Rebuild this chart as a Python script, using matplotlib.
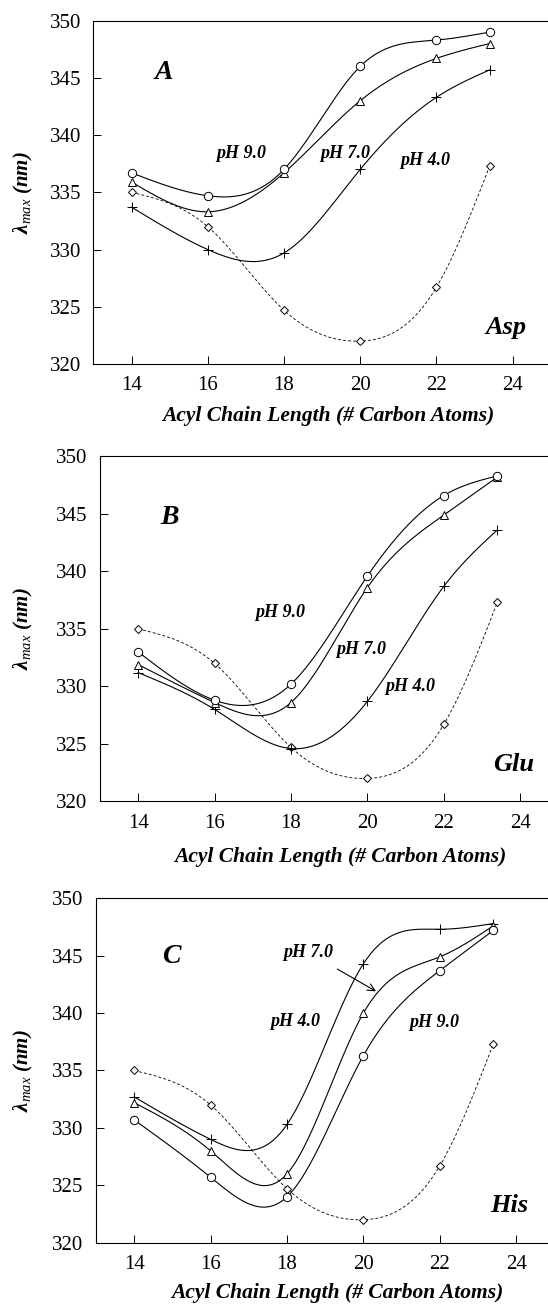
import numpy as np
import matplotlib
matplotlib.use("Agg")
import matplotlib.pyplot as plt

plt.rcParams['font.family'] = ['Liberation Serif', 'DejaVu Serif']
plt.rcParams['mathtext.fontset'] = 'custom'
plt.rcParams['mathtext.rm'] = 'Liberation Serif'
plt.rcParams['mathtext.it'] = 'Liberation Serif:italic'

# acyl chain length (number of carbon atoms)
chain = [14, 16, 18, 20, 22, 23.4]

# reference curve (dashed), same in every panel
ref_curve = [335.0, 332.0, 324.7, 322.0, 326.7, 337.3]

# panel A - Asp
asp_ph9 = [336.7, 334.7, 337.0, 346.0, 348.3, 349.0]
asp_ph7 = [335.9, 333.3, 336.7, 343.0, 346.7, 348.0]
asp_ph4 = [333.7, 330.0, 329.7, 337.0, 343.3, 345.7]

# panel B - Glu
glu_ph9 = [333.0, 328.8, 330.2, 339.6, 346.6, 348.3]
glu_ph7 = [331.9, 328.6, 328.6, 338.6, 344.9, 348.2]
glu_ph4 = [331.2, 328.0, 324.6, 328.7, 338.7, 343.6]

# panel C - His
his_ph9 = [330.7, 325.7, 324.0, 336.3, 343.7, 347.2]
his_ph7 = [332.2, 328.0, 326.0, 340.0, 344.9, 347.6]
his_ph4 = [332.7, 329.0, 330.3, 344.3, 347.3, 347.8]


def natural_spline(x, y, n=300):
    x = np.asarray(x, float)
    y = np.asarray(y, float)
    m = len(x)
    h = np.diff(x)
    A = np.zeros((m, m))
    rhs = np.zeros(m)
    A[0, 0] = 1.0
    A[-1, -1] = 1.0
    for i in range(1, m - 1):
        A[i, i - 1] = h[i - 1]
        A[i, i] = 2 * (h[i - 1] + h[i])
        A[i, i + 1] = h[i]
        rhs[i] = 3 * ((y[i + 1] - y[i]) / h[i] - (y[i] - y[i - 1]) / h[i - 1])
    c = np.linalg.solve(A, rhs)
    b = (y[1:] - y[:-1]) / h - h * (2 * c[:-1] + c[1:]) / 3
    d = (c[1:] - c[:-1]) / (3 * h)
    xs = np.linspace(x[0], x[-1], n)
    idx = np.clip(np.searchsorted(x, xs, side='right') - 1, 0, m - 2)
    t = xs - x[idx]
    ys = y[idx] + b[idx] * t + c[idx] * t ** 2 + d[idx] * t ** 3
    return xs, ys


def draw_series(ax, y, marker, ms, dashed=False):
    xs, ys = natural_spline(chain, y)
    ls = (0, (3.5, 2.5)) if dashed else '-'
    lw = 0.6 if dashed else 0.8
    ax.plot(xs, ys, color='black', lw=lw, ls=ls)
    ax.plot(chain, y, ls='none', marker=marker, ms=ms, mfc='white',
            mec='black', mew=0.7)


bold_it = dict(fontweight='bold', fontstyle='italic')

fig = plt.figure(figsize=(5.48, 13.07), dpi=100)

# axes boxes in figure fraction; right edge runs just past the canvas
panels = [
    dict(rect=[0.1706, 0.7215, 0.8343, 0.2627], letter='A', amino='Asp',
         series=(asp_ph9, asp_ph7, asp_ph4),
         labels=[('pH 9.0', 16.87, 338.4), ('pH 7.0', 19.62, 338.4),
                 ('pH 4.0', 21.71, 337.8)],
         xlab=(0.514, -0.1515), letter_pos=(14.85, 345.5)),
    dict(rect=[0.1825, 0.3868, 0.8365, 0.2640], letter='B', amino='Glu',
         series=(glu_ph9, glu_ph7, glu_ph4),
         labels=[('pH 9.0', 17.72, 336.4), ('pH 7.0', 19.84, 333.2),
                 ('pH 4.0', 21.12, 330.0)],
         xlab=(0.524, -0.161), letter_pos=(14.83, 344.7)),
    dict(rect=[0.1752, 0.0492, 0.8365, 0.2635], letter='C', amino='His',
         series=(his_ph9, his_ph7, his_ph4),
         labels=[('pH 4.0', 18.22, 339.3), ('pH 9.0', 21.85, 339.2)],
         xlab=(0.526, -0.146), letter_pos=(14.96, 344.9)),
]

for p in panels:
    ax = fig.add_axes(p['rect'])
    ph9, ph7, ph4 = p['series']

    draw_series(ax, ref_curve, 'D', 4.0, dashed=True)
    draw_series(ax, ph4, '+', 7.5)
    draw_series(ax, ph7, '^', 6.0)
    draw_series(ax, ph9, 'o', 6.0)

    ax.set_xlim(13, 25)
    ax.set_ylim(320, 350)
    ax.set_xticks([14, 16, 18, 20, 22, 24])
    ax.set_yticks([320, 325, 330, 335, 340, 345, 350])
    ax.tick_params(direction='in', length=5.5, width=0.7, labelsize=15,
                   pad=9)
    ax.spines['right'].set_visible(False)
    for s in ('left', 'bottom', 'top'):
        ax.spines[s].set_linewidth(0.8)

    ax.text(*p['letter_pos'], p['letter'], fontsize=20, ha='center',
            va='center', **bold_it)
    ax.text(23.83, 323.2, p['amino'], fontsize=19, ha='center',
            va='center', **bold_it)
    for txt, tx, ty in p['labels']:
        ax.text(tx, ty, txt, fontsize=13, ha='center', va='center', **bold_it)

    ax.set_xlabel('Acyl Chain Length (# Carbon Atoms)', fontsize=15.5,
                  **bold_it)
    ax.xaxis.set_label_coords(*p['xlab'])
    ax.xaxis.label.set_verticalalignment('center')

    ax.set_ylabel(r'λ$_{max}$ (nm)', fontsize=15, **bold_it)
    left_px = p['rect'][0] * 548
    width_px = p['rect'][2] * 548
    ax.yaxis.set_label_coords((35 - left_px) / width_px, 0.5)

    if p['letter'] == 'C':
        ax.annotate('pH 7.0', xy=(20.33, 341.9), xytext=(18.55, 345.3),
                    fontsize=13, ha='center', va='center', **bold_it,
                    arrowprops=dict(arrowstyle='->', lw=0.8, color='black',
                                    shrinkA=8, shrinkB=0))

fig.savefig('out.png', dpi=100)
